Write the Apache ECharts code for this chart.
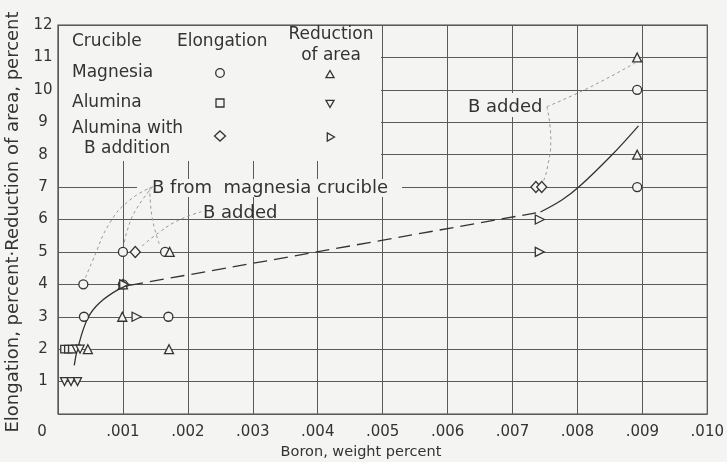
<!DOCTYPE html>
<html>
<head>
<meta charset="utf-8">
<script src="https://cdn.jsdelivr.net/npm/echarts@6/dist/echarts.min.js"></script>
<style>
  html, body { margin: 0; padding: 0; background: #f4f4f2; }
  #chart { width: 727px; height: 462px; }
</style>
</head>
<body>
<div id="chart"></div>
<script>
// Ductility of cast specimens against boron content, by crucible material.

// Elongation (o) and reduction of area (triangle up), magnesia crucible
const magnesiaElongation = [[0.00039, 4], [0.0004, 3], [0.001, 5], [0.001, 4], [0.00165, 5], [0.0017, 3], [0.00892, 10], [0.00892, 7]];
const magnesiaReduction = [[0.00046, 2], [0.00099, 3], [0.001, 4], [0.00172, 5], [0.00171, 2], [0.00892, 11], [0.00892, 8]];
// Alumina crucible: squares and downward triangles
const aluminaElongation = [[0.0001, 2], [0.00016, 2], [0.00022, 2]];
const aluminaReduction = [[0.00028, 2], [0.00034, 2], [0.0001, 1], [0.0002, 1], [0.0003, 1]];
// Alumina crucible with boron added: diamonds and right-pointing triangles
const boronAddedElongation = [[0.00119, 5], [0.00736, 7], [0.00745, 7]];
const boronAddedReduction = [[0.00121, 3], [0.00102, 4], [0.00742, 6], [0.00742, 5]];

// Faired trend curve: solid at both ends, dashed across the sparse middle
const trendLow = [[0.00025, 1.5], [0.0003, 2.0], [0.00046, 2.96], [0.00065, 3.45], [0.00098, 3.9], [0.0011, 3.97]];
const trendMiddle = [[0.0011, 3.97], [0.00743, 6.23]];
const trendHigh = [[0.00743, 6.23], [0.00776, 6.6], [0.00802, 7.0], [0.00853, 7.99], [0.00894, 8.89]];

// Leader lines from the annotations to the points they describe
const leaderMgToLowCircle = [[0.001459, 7.01], [0.001106, 6.6], [0.0008, 5.9], [0.000538, 4.75], [0.000415, 4.17]];
const leaderMgToMidCircle = [[0.001459, 7.01], [0.0012, 6.3], [0.00106, 5.62], [0.001014, 5.19]];
const leaderMgToPair = [[0.001413, 6.98], [0.001444, 6.14], [0.00157, 5.19]];
const leaderAddedLow = [[0.00221, 6.24], [0.00187, 5.99], [0.00157, 5.62], [0.00126, 5.12]];
const leaderAddedHighUp = [[0.00753, 9.48], [0.00817, 10.06], [0.00889, 10.83]];
const leaderAddedHighDown = [[0.00753, 9.48], [0.00759, 8.46], [0.00753, 7.53], [0.00747, 7.16]];

// Axis ticks
const xTickStep = 0.001;
const yTickStep = 1;

const BG = '#f4f4f2';
const INK = '#333333';
const GRID = '#5a5a5a';
const FONT = 'DejaVu Sans';

function pointSeries(data, symbol, rotate, size) {
  return {
    type: 'scatter',
    data: data,
    symbol: symbol,
    symbolRotate: rotate,
    symbolSize: size,
    z: 4,
    itemStyle: { color: BG, borderColor: INK, borderWidth: 1.3, opacity: 1 },
    emphasis: { disabled: true }
  };
}

function curveSeries(data, dashed) {
  return {
    type: 'line',
    data: data,
    smooth: 0.4,
    showSymbol: false,
    z: 3,
    lineStyle: { color: INK, width: 1.3, type: dashed ? [14, 7] : 'solid' },
    emphasis: { disabled: true }
  };
}

function leaderSeries(data) {
  return {
    type: 'line',
    data: data,
    smooth: 0.5,
    showSymbol: false,
    z: 3,
    lineStyle: { color: '#9a9a9a', width: 1, type: [3, 3] },
    emphasis: { disabled: true }
  };
}

function xLabel(v) {
  const n = Math.round(v * 1000);
  if (n === 0) return '';
  return '.' + String(n).padStart(3, '0');
}

const textStyle = (txt, x, y, size, align) => ({
  text: txt, x: x, y: y, fill: INK,
  font: size + 'px "' + FONT + '"',
  align: align || 'left', verticalAlign: 'middle'
});

const triUp = (cx, cy, s) => [[cx, cy - s], [cx + s * 0.9, cy + s * 0.6], [cx - s * 0.9, cy + s * 0.6]];
const triDown = (cx, cy, s) => [[cx, cy + s], [cx + s * 0.9, cy - s * 0.6], [cx - s * 0.9, cy - s * 0.6]];
const triRight = (cx, cy, s) => [[cx + s, cy], [cx - s * 0.6, cy - s * 0.9], [cx - s * 0.6, cy + s * 0.9]];
const glyphStyle = { fill: BG, stroke: INK, lineWidth: 1.3 };

const chart = echarts.init(document.getElementById('chart'), null, { renderer: 'canvas' });

chart.setOption({
  animation: false,
  backgroundColor: BG,
  grid: { left: 58, right: 17, top: 25, bottom: 48, show: true, borderColor: '#444', borderWidth: 1.2, backgroundColor: 'transparent' },
  xAxis: {
    type: 'value', min: 0, max: 0.010, interval: xTickStep,
    axisLine: { show: false }, axisTick: { show: false },
    splitLine: { show: true, lineStyle: { color: GRID, width: 1 } },
    axisLabel: { formatter: xLabel, color: INK, fontFamily: FONT, fontSize: 15, margin: 11 }
  },
  yAxis: {
    type: 'value', min: 0, max: 12, interval: yTickStep,
    axisLine: { show: false }, axisTick: { show: false },
    splitLine: { show: true, lineStyle: { color: GRID, width: 1 } },
    axisLabel: { formatter: v => (v === 0 ? '' : String(v)), color: INK, fontFamily: FONT, fontSize: 15, margin: 15, align: 'center' }
  },
  graphic: [
    // blank panel holding the key
    { type: 'rect', z: 1, shape: { x: 59, y: 26, width: 322, height: 135 }, style: { fill: BG } },
    // clear band behind the upper annotation and the right-hand annotation
    { type: 'rect', z: 1, shape: { x: 137, y: 179, width: 265, height: 18 }, style: { fill: BG } },
    { type: 'rect', z: 1, shape: { x: 462, y: 93, width: 88, height: 24 }, style: { fill: BG } },

    // key
    { type: 'text', z: 5, style: textStyle('Crucible', 72, 42, 17) },
    { type: 'text', z: 5, style: textStyle('Elongation', 177, 42, 17) },
    { type: 'text', z: 5, style: textStyle('Reduction', 331, 35, 17, 'center') },
    { type: 'text', z: 5, style: textStyle('of area', 331, 56, 17, 'center') },
    { type: 'text', z: 5, style: textStyle('Magnesia', 72, 73, 17) },
    { type: 'text', z: 5, style: textStyle('Alumina', 72, 103, 17) },
    { type: 'text', z: 5, style: textStyle('Alumina with', 72, 129, 17) },
    { type: 'text', z: 5, style: textStyle('B addition', 84, 149, 17) },
    { type: 'circle', z: 5, shape: { cx: 220, cy: 73, r: 4.3 }, style: glyphStyle },
    { type: 'rect', z: 5, shape: { x: 216, y: 99, width: 8, height: 8 }, style: glyphStyle },
    { type: 'polygon', z: 5, shape: { points: [[220, 131], [225.5, 136], [220, 141], [214.5, 136]] }, style: glyphStyle },
    { type: 'polygon', z: 5, shape: { points: triUp(330, 75, 4.5) }, style: glyphStyle },
    { type: 'polygon', z: 5, shape: { points: triDown(330, 103, 4.5) }, style: glyphStyle },
    { type: 'polygon', z: 5, shape: { points: triRight(330, 137, 4.5) }, style: glyphStyle },

    // annotations
    { type: 'text', z: 5, style: textStyle('B from  magnesia crucible', 152, 188, 18) },
    { type: 'text', z: 5, style: textStyle('B added', 203, 213, 18) },
    { type: 'text', z: 5, style: textStyle('B added', 468, 107, 18) },

    // axis titles and the shared origin label
    { type: 'text', z: 5, style: textStyle('0', 42, 432, 15, 'center') },
    { type: 'text', z: 5, style: textStyle('Boron, weight percent', 361, 452, 14.5, 'center') },
    { type: 'text', z: 5, x: 13, y: 222, rotation: Math.PI / 2, style: textStyle('Elongation, percent\u00B7Reduction of area, percent', 0, 0, 18, 'center') }
  ],
  series: [
    curveSeries(trendLow, false),
    curveSeries(trendMiddle, true),
    curveSeries(trendHigh, false),
    leaderSeries(leaderMgToLowCircle),
    leaderSeries(leaderMgToMidCircle),
    leaderSeries(leaderMgToPair),
    leaderSeries(leaderAddedLow),
    leaderSeries(leaderAddedHighUp),
    leaderSeries(leaderAddedHighDown),
    pointSeries(magnesiaElongation, 'circle', 0, 9),
    pointSeries(magnesiaReduction, 'triangle', 0, 9),
    pointSeries(aluminaElongation, 'rect', 0, 7.5),
    pointSeries(aluminaReduction, 'triangle', 180, 8),
    pointSeries(boronAddedElongation, 'diamond', 0, [10, 11]),
    pointSeries(boronAddedReduction, 'triangle', -90, 9)
  ]
});
</script>
</body>
</html>
